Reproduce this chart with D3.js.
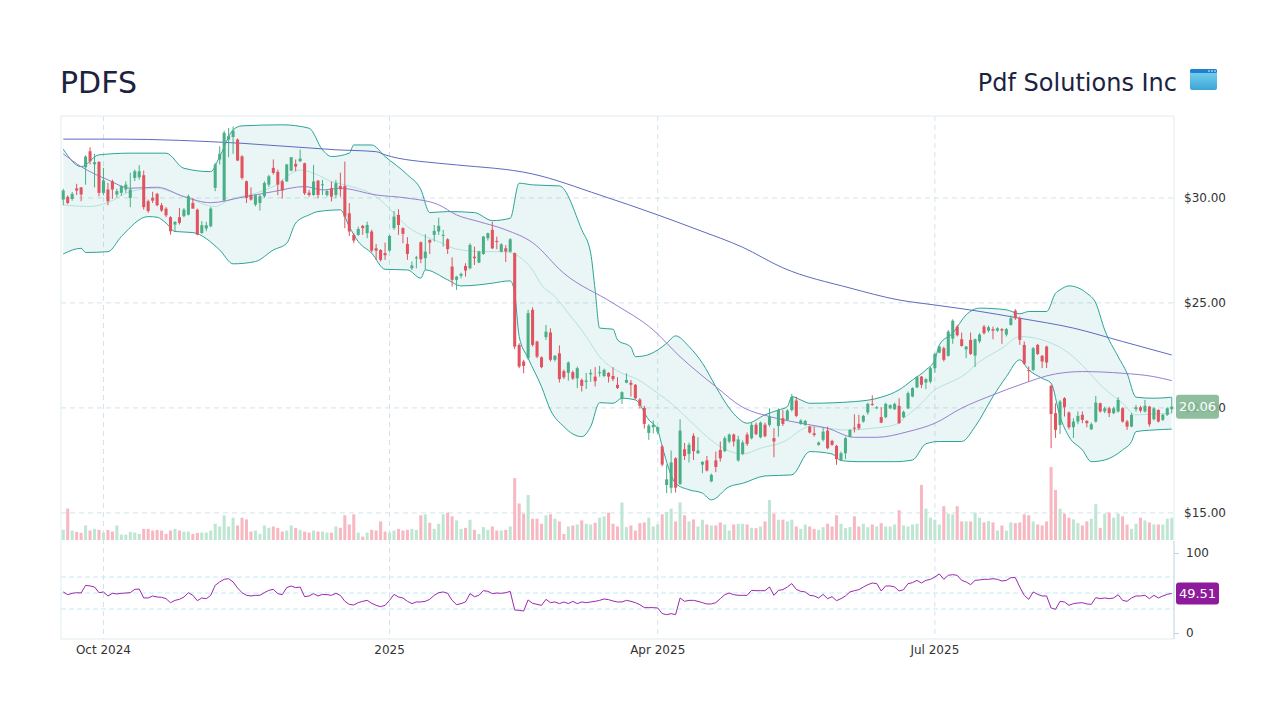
<!DOCTYPE html>
<html>
<head>
<meta charset="utf-8">
<script src="https://cdn.jsdelivr.net/npm/d3@7"></script>
<style>
  html, body { margin: 0; padding: 0; background: #fff; }
  #chart { width: 1280px; height: 720px; }
  svg text { font-family: 'DejaVu Sans', sans-serif; }
</style>
</head>
<body>
<div id="chart"></div>
<script>
'use strict';

const TICKER = 'PDFS';
const COMPANY = 'Pdf Solutions Inc';

// trading calendar (NYSE closures inside the range)
const START_DATE = '2024-09-18';
const END_DATE = '2025-09-16';
const HOLIDAYS = ['2024-11-28', '2024-12-25', '2025-01-01', '2025-01-09', '2025-01-20',
  '2025-02-17', '2025-04-18', '2025-05-26', '2025-06-19', '2025-07-04', '2025-09-01'];

const TICK_MONTHS = ['2024-10', '2025-01', '2025-04', '2025-07'];
const TICK_LABELS = ['Oct 2024', '2025', 'Apr 2025', 'Jul 2025'];
const PRICE_TICKS = [15, 20, 25, 30];
const RSI_TICKS = [0, 100];
const RSI_LEVELS = [30, 50, 70];

// daily OHLC
const OPEN = [
  29.92, 30.05, 29.95, 30.45, 30.50, 31.46, 32.22, 31.60, 31.71, 30.24,
  30.40, 30.79, 30.16, 30.24, 30.40, 30.00, 30.95, 30.98, 31.08, 29.84,
  30.00, 30.19, 29.65, 29.49, 29.08, 28.73, 29.08, 29.13, 29.20, 29.76,
  29.44, 28.33, 28.54, 28.65, 30.48, 31.83, 29.87, 32.78, 32.90, 32.78,
  31.98, 30.79, 30.13, 29.68, 29.76, 30.08, 30.63, 31.43, 31.24, 30.79,
  30.79, 31.30, 31.62, 31.75, 31.65, 30.25, 30.14, 30.82, 30.60, 30.14,
  30.46, 30.14, 30.57, 30.57, 29.27, 28.24, 28.24, 28.67, 28.32, 28.40,
  27.60, 27.52, 27.37, 27.49, 28.56, 29.19, 28.56, 27.81, 26.65, 27.13,
  27.89, 27.13, 28.00, 28.24, 28.40, 28.19, 28.03, 26.73, 26.10, 26.29,
  26.76, 26.65, 27.20, 26.92, 27.33, 28.08, 28.48, 27.95, 27.44, 27.60,
  27.44, 27.37, 23.00, 22.21, 22.37, 24.67, 23.16, 22.41, 23.37, 23.59,
  22.29, 22.60, 21.75, 21.67, 21.70, 21.41, 21.33, 21.24, 21.60, 21.49,
  21.65, 21.52, 21.67, 21.52, 21.10, 20.43, 21.20, 21.20, 21.10, 20.40,
  20.00, 18.81, 19.08, 18.87, 18.16, 16.33, 16.20, 17.60, 16.38, 18.03,
  17.81, 18.67, 17.84, 17.30, 17.50, 16.50, 17.50, 18.00, 17.94, 18.40,
  18.73, 17.50, 17.81, 18.73, 18.56, 19.20, 18.60, 19.20, 19.19, 18.56,
  19.14, 19.51, 19.43, 19.90, 20.35, 19.24, 19.19, 19.11, 18.79, 18.24,
  18.48, 18.92, 18.43, 18.19, 17.52, 17.84, 18.63, 19.06, 19.24, 19.35,
  19.78, 20.19, 19.98, 19.56, 19.56, 19.98, 19.94, 20.10, 19.56, 19.98,
  20.54, 20.98, 21.49, 21.21, 21.25, 21.89, 22.63, 22.84, 22.48, 23.30,
  23.87, 23.27, 22.79, 23.24, 22.49, 23.17, 23.87, 23.68, 23.75, 23.68,
  23.75, 23.49, 23.95, 24.63, 24.27, 23.00, 21.80, 21.81, 23.00, 22.48,
  22.92, 21.05, 19.75, 19.19, 20.46, 19.78, 19.08, 19.35, 19.67, 19.38,
  18.98, 19.35, 20.22, 19.83, 19.98, 19.75, 19.83, 19.98, 19.35, 19.11,
  19.94, 20.03, 19.83, 20.06, 19.46, 19.90, 19.43, 19.67, 19.94
];
const HIGH = [
  30.43, 30.12, 30.28, 30.67, 30.52, 32.03, 32.41, 32.10, 31.75, 31.43,
  30.71, 30.87, 30.44, 30.60, 30.79, 31.20, 31.35, 31.56, 31.30, 29.92,
  30.29, 30.24, 29.76, 29.56, 29.13, 28.89, 29.52, 29.52, 30.16, 30.00,
  29.49, 28.89, 28.86, 29.56, 31.67, 32.46, 33.20, 33.33, 33.40, 32.83,
  32.03, 30.83, 30.50, 30.16, 30.16, 30.79, 31.10, 31.83, 31.35, 30.87,
  31.62, 31.94, 31.83, 32.30, 31.68, 30.38, 31.57, 30.86, 30.86, 30.41,
  30.78, 30.86, 31.20, 31.73, 29.75, 28.32, 28.63, 28.71, 28.87, 28.48,
  27.81, 27.56, 27.87, 28.24, 29.38, 29.46, 28.60, 28.13, 26.97, 27.24,
  27.92, 28.27, 28.03, 28.71, 29.06, 28.48, 28.08, 27.17, 26.29, 26.44,
  26.89, 27.84, 27.68, 27.49, 28.19, 28.35, 28.87, 28.16, 27.84, 27.75,
  28.08, 27.40, 23.08, 22.29, 24.67, 24.79, 23.20, 22.45, 23.95, 23.79,
  22.52, 22.98, 21.83, 22.21, 21.78, 21.97, 21.40, 21.67, 21.84, 21.94,
  22.00, 21.87, 21.70, 21.94, 21.46, 20.79, 21.65, 21.33, 21.14, 20.46,
  20.10, 19.24, 19.40, 19.11, 18.24, 17.30, 17.97, 17.65, 19.46, 18.33,
  18.35, 18.79, 18.60, 17.46, 17.71, 16.87, 17.92, 18.40, 18.65, 18.78,
  18.78, 18.67, 18.45, 18.83, 19.30, 19.30, 19.35, 19.30, 19.98, 19.03,
  19.98, 19.90, 19.94, 20.67, 20.54, 19.46, 19.43, 19.15, 19.11, 18.40,
  19.08, 19.11, 18.48, 18.24, 17.92, 18.63, 18.98, 19.70, 19.67, 19.67,
  20.25, 20.60, 20.08, 20.03, 20.25, 20.17, 20.25, 20.46, 19.87, 20.78,
  20.98, 21.52, 21.52, 21.41, 21.97, 22.63, 22.95, 22.92, 23.71, 24.22,
  23.95, 23.59, 22.95, 23.59, 23.30, 23.56, 23.95, 23.92, 23.87, 23.84,
  23.80, 23.81, 24.40, 24.70, 24.35, 23.16, 21.97, 22.90, 23.05, 22.52,
  22.97, 21.10, 20.22, 20.38, 20.51, 19.83, 19.51, 19.83, 19.83, 19.42,
  19.30, 20.57, 20.25, 20.06, 20.06, 20.06, 20.51, 20.03, 19.43, 19.75,
  20.14, 20.10, 20.38, 20.10, 20.03, 19.94, 19.71, 20.03, 20.50
];
const LOW = [
  29.65, 29.70, 29.87, 30.13, 29.84, 30.63, 31.59, 30.50, 30.08, 30.13,
  29.65, 29.95, 30.03, 30.10, 30.24, 29.56, 30.80, 30.87, 29.44, 29.29,
  29.76, 29.60, 29.33, 29.08, 28.25, 28.38, 28.73, 29.08, 29.16, 29.49,
  28.22, 28.29, 28.41, 28.60, 30.32, 31.59, 29.84, 31.94, 32.10, 31.75,
  30.87, 29.76, 29.87, 29.60, 29.40, 30.00, 30.52, 31.11, 30.13, 29.97,
  30.76, 31.27, 31.27, 31.70, 30.14, 30.06, 30.10, 29.98, 30.14, 30.06,
  29.83, 29.98, 30.06, 28.56, 28.19, 27.84, 28.19, 28.24, 28.08, 27.40,
  27.05, 26.97, 27.05, 27.44, 28.48, 28.24, 27.84, 27.05, 26.57, 26.65,
  26.89, 26.57, 27.33, 27.92, 28.24, 27.68, 27.33, 25.78, 25.62, 26.17,
  26.25, 26.60, 26.81, 26.89, 27.29, 27.97, 27.56, 27.56, 27.40, 26.95,
  27.40, 22.79, 21.89, 21.65, 22.29, 22.92, 22.37, 21.89, 23.24, 22.21,
  22.21, 21.21, 21.37, 21.30, 21.33, 20.94, 20.78, 20.90, 21.24, 21.02,
  21.49, 21.46, 21.21, 21.27, 20.90, 20.19, 21.17, 20.54, 20.41, 19.97,
  19.02, 18.48, 18.79, 18.76, 17.21, 15.94, 15.94, 15.97, 16.33, 17.52,
  17.40, 17.52, 17.81, 16.89, 16.97, 16.46, 16.94, 17.44, 17.90, 18.32,
  18.16, 17.44, 17.75, 18.19, 18.50, 18.70, 18.55, 18.60, 19.11, 17.65,
  18.63, 19.14, 19.38, 19.83, 19.56, 19.20, 19.15, 18.78, 18.63, 18.20,
  18.40, 18.03, 18.20, 17.29, 17.49, 17.56, 18.60, 18.83, 18.95, 19.30,
  19.67, 20.10, 19.94, 19.27, 19.51, 19.94, 19.90, 19.24, 19.51, 19.94,
  20.51, 20.94, 20.94, 20.89, 21.17, 21.68, 22.60, 22.21, 22.44, 23.05,
  23.40, 22.92, 22.37, 22.52, 21.95, 23.08, 23.49, 23.60, 23.27, 23.62,
  23.05, 23.40, 23.92, 24.19, 23.00, 22.05, 21.25, 21.75, 22.52, 21.90,
  21.90, 18.08, 18.57, 18.76, 19.59, 18.98, 18.57, 19.22, 19.27, 19.08,
  18.95, 19.30, 19.78, 19.75, 19.56, 19.70, 19.78, 19.30, 18.95, 19.08,
  19.82, 19.78, 19.78, 19.11, 19.40, 19.30, 19.38, 19.62, 19.75
];
const CLOSE = [
  30.35, 29.76, 30.19, 30.35, 30.16, 31.97, 31.75, 31.70, 30.24, 30.83,
  29.84, 30.40, 30.32, 30.56, 30.63, 30.40, 31.27, 31.27, 29.56, 29.37,
  29.87, 29.65, 29.40, 29.17, 28.41, 28.86, 28.81, 29.44, 30.08, 29.49,
  28.25, 28.70, 28.70, 29.49, 31.59, 32.10, 33.10, 32.94, 33.20, 31.78,
  30.95, 30.00, 29.92, 30.13, 30.08, 30.71, 31.03, 31.19, 30.63, 30.35,
  31.59, 31.94, 31.49, 31.87, 30.22, 30.14, 30.78, 30.14, 30.65, 30.33,
  30.06, 30.70, 30.41, 29.11, 28.40, 27.97, 28.52, 28.56, 28.71, 27.49,
  27.49, 27.05, 27.27, 28.19, 29.11, 28.71, 28.29, 27.33, 26.78, 27.17,
  27.08, 27.44, 27.87, 28.43, 28.67, 28.24, 27.56, 26.10, 26.25, 26.38,
  26.54, 27.76, 27.13, 27.44, 28.16, 28.32, 27.60, 27.90, 27.79, 27.45,
  28.03, 22.92, 21.97, 22.00, 24.51, 23.00, 22.44, 21.94, 23.63, 22.29,
  22.48, 21.37, 21.46, 22.16, 21.40, 21.89, 21.05, 21.30, 21.67, 21.27,
  21.70, 21.81, 21.49, 21.37, 20.95, 20.75, 21.33, 21.10, 20.46, 20.10,
  19.24, 19.16, 19.20, 19.08, 17.30, 16.60, 17.40, 16.20, 18.92, 17.71,
  18.24, 17.94, 17.97, 17.43, 17.02, 16.81, 17.19, 17.60, 18.56, 18.73,
  18.40, 18.50, 18.35, 18.29, 19.19, 18.75, 19.30, 18.65, 19.59, 18.40,
  19.90, 19.24, 19.87, 20.51, 19.62, 19.40, 19.38, 18.83, 18.71, 18.35,
  18.87, 18.08, 18.24, 17.56, 17.84, 18.56, 18.95, 19.03, 19.03, 19.62,
  20.19, 20.17, 20.03, 19.30, 20.19, 20.13, 20.19, 19.27, 19.81, 20.70,
  20.94, 21.46, 21.10, 21.37, 21.89, 22.57, 22.92, 22.29, 23.63, 24.15,
  23.46, 22.95, 22.92, 22.57, 23.27, 23.49, 23.56, 23.84, 23.68, 23.79,
  23.68, 23.75, 24.27, 24.27, 23.24, 22.10, 21.75, 22.84, 22.57, 22.21,
  22.16, 19.71, 18.95, 20.30, 20.03, 19.08, 19.35, 19.62, 19.43, 19.27,
  19.22, 20.25, 19.83, 19.98, 19.75, 19.98, 20.38, 19.35, 19.11, 19.67,
  20.03, 19.87, 20.10, 19.22, 19.98, 19.35, 19.67, 19.98, 20.06
];

// volume, thousands of shares
const VOLUME = [
  300, 930, 280, 240, 210, 430, 280, 330, 300, 220,
  300, 250, 430, 160, 160, 240, 220, 180, 330, 330,
  280, 300, 280, 180, 280, 330, 280, 250, 250, 180,
  210, 220, 220, 280, 480, 400, 730, 400, 660, 430,
  660, 610, 250, 280, 180, 430, 360, 400, 360, 250,
  280, 430, 360, 300, 250, 220, 280, 250, 250, 220,
  220, 400, 360, 730, 460, 760, 220, 100, 220, 300,
  280, 550, 250, 220, 280, 330, 280, 300, 330, 300,
  730, 760, 510, 330, 480, 760, 810, 700, 580, 330,
  360, 600, 300, 180, 380, 300, 400, 280, 280, 300,
  400, 1830, 1080, 780, 1330, 630, 630, 480, 730, 760,
  630, 550, 180, 400, 430, 460, 580, 480, 460, 510,
  660, 700, 810, 480, 400, 1110, 380, 430, 280, 500,
  520, 660, 400, 460, 760, 830, 930, 550, 1110, 730,
  550, 610, 400, 600, 460, 430, 430, 520, 460, 280,
  460, 480, 480, 460, 360, 350, 400, 550, 1180, 780,
  600, 600, 550, 600, 400, 330, 460, 400, 330, 300,
  380, 480, 400, 730, 480, 350, 380, 700, 400, 480,
  380, 460, 400, 500, 400, 400, 460, 880, 430, 400,
  460, 480, 1630, 930, 660, 600, 460, 1000, 780, 760,
  1000, 550, 550, 550, 810, 660, 520, 560, 520, 280,
  430, 280, 520, 500, 520, 760, 730, 550, 460, 430,
  550, 2160, 1480, 930, 780, 660, 610, 500, 430, 550,
  630, 1060, 360, 780, 810, 660, 780, 700, 460, 330,
  480, 660, 580, 520, 460, 460, 460, 630, 660
];

// RSI(14)
const RSI = [
  51.3, 47.9, 49.6, 50.4, 50.0, 59.6, 58.8, 57.5, 50.4, 51.3,
  46.3, 49.6, 48.8, 49.6, 50.0, 50.4, 54.6, 55.0, 43.8, 43.8,
  46.3, 45.0, 44.6, 42.9, 37.9, 40.8, 42.1, 45.0, 50.4, 47.1,
  40.4, 43.8, 42.9, 47.1, 59.6, 63.8, 67.1, 67.9, 63.8, 56.3,
  50.4, 47.1, 46.3, 47.1, 47.1, 50.4, 53.3, 54.6, 49.2, 47.9,
  56.7, 58.8, 56.7, 57.5, 45.4, 46.3, 49.2, 46.3, 48.3, 47.9,
  47.1, 49.6, 47.1, 39.6, 35.8, 35.0, 37.9, 39.6, 40.8, 37.1,
  34.6, 32.9, 34.6, 40.8, 48.3, 45.0, 43.8, 39.6, 36.7, 38.8,
  38.8, 39.6, 42.1, 47.1, 50.4, 51.3, 49.6, 40.8, 35.4, 36.7,
  38.8, 49.2, 45.4, 47.1, 52.9, 52.1, 49.2, 50.0, 49.6, 50.4,
  52.0, 28.8, 28.3, 27.5, 41.3, 37.1, 35.8, 34.6, 42.1, 37.9,
  38.8, 36.7, 38.8, 36.7, 39.6, 36.7, 38.8, 37.9, 38.8, 39.6,
  40.8, 42.5, 41.7, 40.0, 38.8, 38.8, 40.8, 39.6, 37.9, 35.4,
  31.7, 31.7, 31.7, 31.3, 24.2, 22.9, 24.2, 22.9, 43.8, 39.6,
  40.8, 40.8, 39.6, 37.9, 36.3, 36.3, 37.9, 42.9, 47.9, 50.0,
  47.9, 47.1, 47.1, 47.1, 53.3, 52.9, 52.9, 52.9, 57.5, 47.1,
  53.3, 54.2, 57.5, 61.7, 54.6, 52.1, 51.3, 47.1, 46.3, 43.8,
  48.3, 42.9, 45.4, 40.4, 42.9, 46.3, 51.3, 52.9, 54.2, 57.5,
  60.4, 62.5, 61.7, 52.5, 58.8, 58.8, 57.5, 52.5, 54.2, 61.7,
  62.9, 65.8, 62.5, 65.8, 67.1, 70.0, 73.8, 67.1, 72.1, 72.9,
  72.1, 65.8, 63.8, 60.4, 65.8, 66.3, 67.1, 67.1, 67.9, 67.1,
  65.0, 65.8, 69.2, 69.2, 57.5, 47.1, 42.1, 51.3, 48.3, 46.3,
  46.3, 31.3, 29.6, 39.6, 38.8, 34.6, 36.7, 37.5, 37.9, 36.3,
  35.8, 44.2, 42.9, 43.8, 42.9, 43.8, 47.9, 40.8, 39.6, 43.8,
  46.3, 46.3, 47.1, 42.9, 47.1, 43.8, 46.3, 48.3, 49.51
];

// overlays as [bar index, value]
const BB_UPPER = [
  [0, 32.32], [4, 31.49], [8, 32.05], [15, 32.13], [23, 32.13], [27, 31.41], [33, 31.25],
  [35, 31.97], [38, 33.24], [40, 33.43], [49, 33.48], [55, 33.32], [58, 32.29], [60, 31.97],
  [64, 32.13], [65, 32.52], [69, 32.52], [72, 31.97], [77, 31.1], [80, 30.4], [82, 29.3],
  [86, 29.35], [92, 29.3], [96, 28.92], [100, 29.03], [102, 30.7], [105, 30.62], [111, 30.57],
  [116, 28.48], [118, 27.37], [119, 25.6], [120, 23.8], [123, 23.75], [124, 23.24],
  [127, 22.89], [128, 22.44], [130, 22.48], [133, 22.76], [135, 23.08], [137, 23.43],
  [140, 22.92], [143, 22.13], [146, 21.01], [149, 19.99], [151, 19.51], [153, 19.27],
  [157, 19.67], [160, 19.9], [162, 20.06], [163, 20.54], [165, 20.38], [167, 20.22],
  [177, 20.3], [183, 20.51], [187, 20.86], [190, 21.33], [193, 21.81], [195, 22.29],
  [196, 23.0], [199, 23.56], [202, 24.43], [205, 24.75], [211, 24.67], [214, 24.48],
  [216, 24.59], [220, 24.59], [222, 25.46], [223, 25.62], [225, 25.81], [229, 25.46],
  [231, 24.99], [233, 23.71], [236, 22.44], [238, 21.65], [240, 20.51], [244, 20.46],
  [248, 20.51]
];
const BB_MIDDLE = [
  [0, 29.67], [6, 29.59], [10, 29.78], [15, 30.3], [21, 30.46], [25, 30.22], [28, 29.99],
  [34, 29.59], [37, 29.9], [43, 30.22], [47, 30.54], [53, 31.33], [56, 31.18], [60, 30.78],
  [64, 30.57], [70, 30.06], [74, 29.27], [77, 28.63], [81, 28.16], [84, 27.92], [88, 27.56],
  [94, 27.44], [99, 27.44], [102, 27.2], [105, 26.57], [107, 25.86], [110, 25.3],
  [113, 24.51], [117, 23.4], [120, 22.44], [125, 21.65], [128, 21.41], [133, 20.7],
  [136, 20.22], [140, 19.43], [144, 18.63], [147, 18.16], [152, 17.81], [156, 18.08],
  [162, 18.48], [165, 18.95], [167, 19.11], [171, 19.03], [175, 18.95], [181, 19.03],
  [186, 19.19], [189, 19.67], [192, 20.22], [195, 20.86], [198, 21.18], [201, 21.49],
  [205, 22.2], [210, 22.84], [214, 23.4], [219, 23.24], [225, 22.6], [229, 21.81],
  [232, 21.1], [237, 20.22], [240, 19.67], [244, 19.71], [248, 19.75]
];
const BB_LOWER = [
  [0, 27.33], [4, 27.6], [5, 27.4], [10, 27.44], [13, 28.16], [19, 29.11], [21, 29.08],
  [23, 28.8], [25, 28.4], [29, 28.35], [35, 27.52], [38, 26.86], [43, 26.97], [47, 27.52],
  [50, 27.84], [52, 28.8], [55, 29.19], [57, 29.35], [62, 29.43], [64, 28.63], [66, 27.92],
  [69, 27.37], [72, 26.6], [77, 26.57], [80, 26.18], [81, 26.57], [86, 26.1], [89, 25.81],
  [93, 25.86], [96, 25.94], [100, 26.05], [101, 25.46], [102, 23.4], [104, 22.37],
  [107, 21.01], [109, 19.9], [112, 19.11], [114, 18.76], [116, 18.63], [118, 19.11],
  [120, 20.25], [123, 20.22], [125, 20.46], [128, 20.38], [131, 19.43], [133, 18.95],
  [134, 18.16], [137, 16.41], [140, 16.1], [143, 15.94], [145, 15.62], [149, 16.25],
  [152, 16.41], [157, 16.76], [163, 16.81], [167, 17.92], [172, 17.81], [174, 17.49],
  [178, 17.44], [186, 17.44], [190, 17.52], [193, 18.29], [196, 18.4], [201, 18.4],
  [204, 19.11], [208, 20.54], [211, 21.49], [214, 22.29], [216, 21.81], [219, 21.41],
  [221, 21.18], [223, 19.59], [225, 18.63], [228, 18.0], [230, 17.44], [233, 17.52],
  [237, 18.0], [239, 18.4], [240, 18.87], [244, 18.95], [248, 18.99]
];
const SMA50 = [
  [0, 32.1], [4, 31.49], [10, 30.86], [15, 30.46], [21, 30.51], [27, 30.06], [33, 29.77],
  [40, 30.03], [47, 30.3], [54, 30.54], [58, 30.38], [62, 30.46], [70, 30.14], [77, 29.99],
  [84, 29.67], [88, 29.19], [93, 28.87], [99, 28.48], [105, 27.87], [112, 26.41],
  [123, 24.99], [132, 23.71], [138, 22.44], [146, 21.01], [152, 20.03], [158, 19.59],
  [165, 19.27], [171, 19.03], [177, 18.6], [182, 18.6], [189, 18.87], [195, 19.27],
  [201, 19.99], [208, 20.62], [214, 21.1], [222, 21.62], [228, 21.73], [237, 21.65],
  [244, 21.49], [248, 21.3]
];
const SMA200 = [
  [0, 32.8], [12, 32.8], [40, 32.6], [61, 32.29], [70, 32.2], [72, 32.05], [84, 31.65],
  [88, 31.57], [105, 31.14], [120, 30.14], [133, 29.19], [142, 28.48], [152, 27.65],
  [161, 26.67], [176, 25.71], [187, 25.14], [195, 24.9], [204, 24.63], [214, 24.27],
  [226, 23.8], [237, 23.16], [248, 22.52]
];

const UP = '#4aae86';
const DOWN = '#e0535f';

function tradingDays(start, end, holidays) {
  const out = [];
  const d = new Date(start + 'T00:00:00Z');
  const last = new Date(end + 'T00:00:00Z');
  for (; d <= last; d.setUTCDate(d.getUTCDate() + 1)) {
    const iso = d.toISOString().slice(0, 10);
    const dow = d.getUTCDay();
    if (dow === 0 || dow === 6 || holidays.includes(iso)) continue;
    out.push(iso);
  }
  return out;
}

function draw() {
  const dates = tradingDays(START_DATE, END_DATE, HOLIDAYS);
  const bars = CLOSE.map((c, i) => ({
    i, date: dates[i], open: OPEN[i], high: HIGH[i], low: LOW[i], close: c,
    volume: VOLUME[i], rsi: RSI[i],
  }));
  const n = bars.length;

  const W = 1280, H = 720;
  const P = { left: 61, right: 1174, top: 116, priceBottom: 540, rsiTop: 541, bottom: 639 };

  const x = d3.scaleLinear().domain([-0.5, n - 0.5]).range([P.left, P.right]);
  const step = x(1) - x(0);
  const bodyW = step * 0.68;

  const y = d3.scaleLinear().domain([13.71, 33.9]).range([P.priceBottom, P.top]);
  const yVol = d3.scaleLinear().domain([0, d3.max(VOLUME)]).range([P.priceBottom, P.priceBottom - 73]);
  const yRsi = d3.scaleLinear().domain([0, 100]).range([P.bottom - 6, P.rsiTop + 12]);

  const svg = d3.select('#chart').append('svg').attr('width', W).attr('height', H);

  svg.append('defs').append('clipPath').attr('id', 'plot-clip')
    .append('rect').attr('x', P.left).attr('y', P.top)
    .attr('width', P.right - P.left).attr('height', P.priceBottom - P.top);

  // Titles
  svg.append('text').attr('x', 60).attr('y', 93)
    .attr('font-size', 30).attr('fill', '#1c2340').text(TICKER);
  svg.append('text').attr('x', 1177).attr('y', 91).attr('text-anchor', 'end')
    .attr('font-size', 24).attr('fill', '#1c2340').text(COMPANY);

  // little window icon next to the company name
  const grad = svg.select('defs').append('linearGradient').attr('id', 'icon-grad')
    .attr('x1', 0).attr('y1', 0).attr('x2', 0).attr('y2', 1);
  grad.append('stop').attr('offset', '0%').attr('stop-color', '#7fd6f0');
  grad.append('stop').attr('offset', '100%').attr('stop-color', '#3aa6d6');
  const icon = svg.append('g').attr('transform', 'translate(1190,69)');
  icon.append('rect').attr('width', 27).attr('height', 21).attr('rx', 2).attr('fill', 'url(#icon-grad)');
  icon.append('rect').attr('width', 27).attr('height', 4).attr('rx', 1.5).attr('fill', '#1f7fd1');
  [19, 22, 25].forEach(cx => icon.append('circle').attr('cx', cx).attr('cy', 2).attr('r', 0.8).attr('fill', '#fff'));

  // Grid
  const tickIdx = TICK_MONTHS.map(m => dates.findIndex(d => d.startsWith(m)));
  const grid = svg.append('g').attr('stroke', '#d3e3eb').attr('stroke-dasharray', '5,4');
  PRICE_TICKS.forEach(p => grid.append('line')
    .attr('x1', P.left).attr('x2', P.right).attr('y1', y(p)).attr('y2', y(p)));
  tickIdx.forEach(i => grid.append('line')
    .attr('x1', x(i)).attr('x2', x(i)).attr('y1', P.top).attr('y2', P.bottom));

  const rsiGrid = svg.append('g').attr('stroke', '#c6e9f6').attr('stroke-dasharray', '5,3');
  RSI_LEVELS.forEach(v => rsiGrid.append('line')
    .attr('x1', P.left).attr('x2', P.right).attr('y1', yRsi(v)).attr('y2', yRsi(v)));

  // Frame
  svg.append('path')
    .attr('d', `M${P.left},${P.bottom}V${P.top}H${P.right}V${P.priceBottom}`)
    .attr('fill', 'none').attr('stroke', '#e1ebf1');
  svg.append('line').attr('x1', P.left).attr('x2', P.right)
    .attr('y1', P.bottom).attr('y2', P.bottom).attr('stroke', '#e1ebf1');

  const plot = svg.append('g').attr('clip-path', 'url(#plot-clip)');

  // Volume
  plot.append('g').selectAll('rect').data(bars).join('rect')
    .attr('x', d => x(d.i) - bodyW / 2)
    .attr('width', bodyW)
    .attr('y', d => yVol(d.volume))
    .attr('height', d => yVol(0) - yVol(d.volume))
    .attr('fill', d => d.close >= d.open ? '#bfe5d3' : '#f7b8c1');

  // Bollinger band fill + lines
  const line = d3.line().x(d => x(d[0])).y(d => y(d[1])).curve(d3.curveMonotoneX);
  const upperPath = line(BB_UPPER);
  const lowerRev = line(BB_LOWER.slice().reverse());
  plot.append('path')
    .attr('d', upperPath + 'L' + lowerRev.slice(1) + 'Z')
    .attr('fill', 'rgba(38,166,154,0.1)');
  plot.append('path').attr('d', line(BB_MIDDLE))
    .attr('fill', 'none').attr('stroke', '#b5e2dc').attr('stroke-width', 1);
  [BB_UPPER, BB_LOWER].forEach(s => plot.append('path').attr('d', line(s))
    .attr('fill', 'none').attr('stroke', '#2ba397').attr('stroke-width', 1));
  plot.append('path').attr('d', line(SMA50))
    .attr('fill', 'none').attr('stroke', '#9a7ed0').attr('stroke-width', 1);
  plot.append('path').attr('d', line(SMA200))
    .attr('fill', 'none').attr('stroke', '#5c6bc0').attr('stroke-width', 1);

  // Candles
  const candle = plot.append('g').selectAll('g').data(bars).join('g')
    .attr('fill', d => d.close >= d.open ? UP : DOWN)
    .attr('stroke', d => d.close >= d.open ? UP : DOWN);
  candle.append('line')
    .attr('x1', d => x(d.i)).attr('x2', d => x(d.i))
    .attr('y1', d => y(d.high)).attr('y2', d => y(d.low))
    .attr('stroke-width', 1);
  candle.append('rect')
    .attr('x', d => x(d.i) - bodyW / 2)
    .attr('width', bodyW)
    .attr('y', d => y(Math.max(d.open, d.close)))
    .attr('height', d => Math.max(1, Math.abs(y(d.open) - y(d.close))))
    .attr('stroke', 'none');

  // Price axis
  const priceAxis = svg.append('g').attr('transform', `translate(${P.right},0)`)
    .call(d3.axisRight(y).tickValues(PRICE_TICKS).tickSize(0).tickPadding(10)
      .tickFormat(d => '$' + d3.format('.2f')(d)));
  priceAxis.select('.domain').remove();
  priceAxis.selectAll('text').attr('font-size', 12).attr('fill', '#333')
    .attr('font-family', "'DejaVu Sans', sans-serif");

  // RSI panel
  plot.append('g'); // keep order
  svg.append('path').datum(bars)
    .attr('d', d3.line().x(d => x(d.i)).y(d => yRsi(d.rsi)))
    .attr('fill', 'none').attr('stroke', '#9c27b0').attr('stroke-width', 1);

  const rsiAxis = svg.append('g').attr('transform', `translate(${P.right},0)`)
    .call(d3.axisRight(yRsi).tickValues(RSI_TICKS).tickSize(5).tickPadding(7));
  rsiAxis.select('.domain').attr('d', `M0,${P.rsiTop}V${P.bottom}`).attr('stroke', '#b9d5e2');
  rsiAxis.selectAll('line').attr('stroke', '#b9d5e2');
  rsiAxis.selectAll('text').attr('font-size', 12).attr('fill', '#333')
    .attr('font-family', "'DejaVu Sans', sans-serif");

  // Time axis labels
  svg.append('g').selectAll('text').data(tickIdx).join('text')
    .attr('x', i => x(i)).attr('y', 654).attr('text-anchor', 'middle')
    .attr('font-size', 12).attr('fill', '#333')
    .text((i, k) => TICK_LABELS[k]);

  // Last value tags
  const last = bars[n - 1];
  const tag = (cy, h, fill, label, opacity) => {
    svg.append('rect').attr('x', P.right + 2).attr('y', cy - h / 2)
      .attr('width', 43).attr('height', h).attr('rx', 3)
      .attr('fill', fill).attr('fill-opacity', opacity);
    svg.append('text').attr('x', P.right + 23.5).attr('y', cy + 4.5)
      .attr('text-anchor', 'middle').attr('font-size', 13).attr('fill', '#fff')
      .text(label);
  };
  tag(y(last.close), 24, '#86b997', d3.format('.2f')(last.close), 0.92);
  tag(yRsi(last.rsi), 22, '#8e1a9c', d3.format('.2f')(last.rsi), 1);
}

draw();
</script>
</body>
</html>
